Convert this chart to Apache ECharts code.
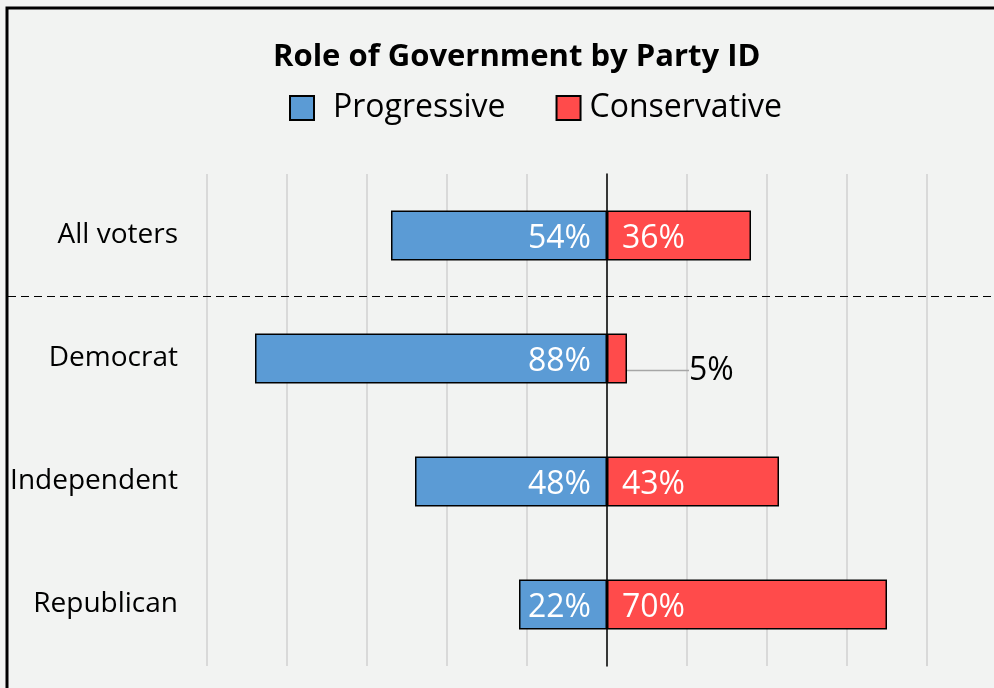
<!DOCTYPE html>
<html><head><meta charset="utf-8">
<script src="https://cdn.jsdelivr.net/npm/echarts@6/dist/echarts.min.js"></script>
<style>html,body{margin:0;padding:0;background:#f2f3f2}#c{width:994px;height:688px}</style>
</head><body><div id="c"></div>
<script>
const categories = ['All voters', 'Democrat', 'Independent', 'Republican'];
const progressive = [54, 88, 48, 22];
const conservative = [36, 5, 43, 70];
const xMin = -100, xMax = 96.75, xStep = 20;

const FONT = 'Open Sans';
const chart = echarts.init(document.getElementById('c'));
chart.setOption({
  backgroundColor: '#f2f3f2',
  animation: false,
  textStyle: { fontFamily: FONT },
  title: {
    text: 'Role of Government by Party ID',
    left: 268, top: 37,
    textStyle: { fontFamily: FONT, fontWeight: 'bold', fontSize: 31, color: '#000' }
  },
  legend: {
    top: 87, left: 284,
    itemWidth: 24, itemHeight: 24, itemGap: 50,
    icon: 'rect',
    textStyle: { fontFamily: FONT, fontSize: 32, color: '#000', padding: [0,0,0,14] },
    data: [
      { name: 'Progressive' },
      { name: 'Conservative', textStyle: { padding: [0,0,0,4] } }
    ]
  },
  grid: { left: 207, right: 0, top: 174, height: 492, containLabel: false },
  xAxis: {
    type: 'value', min: xMin, max: xMax, interval: xStep,
    axisLabel: { show: false }, axisLine: { show: false }, axisTick: { show: false },
    splitLine: { show: true, showMaxLine: false, lineStyle: { color: '#d9d9d9', width: 2 } }
  },
  yAxis: [{
    type: 'category', data: categories, inverse: true,
    axisLine: { show: true, onZero: true, lineStyle: { color: '#000', width: 1.5 } },
    axisTick: { show: false },
    axisLabel: { show: false }
  }, {
    type: 'category', data: categories, inverse: true, position: 'left',
    axisLine: { show: false, onZero: false }, axisTick: { show: false },
    axisLabel: { show: true, margin: 29, color: '#000', fontSize: 28, fontFamily: FONT,
      verticalAlign: 'middle', padding: [6, 0, 0, 0] }
  }],
  series: [
    {
      name: 'Progressive', type: 'bar', stack: 'all', barWidth: 50,
      data: progressive.map(v => -v),
      itemStyle: { color: '#5b9bd5', borderColor: '#000', borderWidth: 1.5 },
      label: {
        show: true, position: 'insideRight', distance: 16,
        color: '#fff', fontSize: 32, fontFamily: FONT,
        formatter: p => Math.abs(p.value) + '%'
      },
      labelLayout: { dy: 3 }
    },
    {
      name: 'Conservative', type: 'bar', stack: 'all', barWidth: 50,
      data: conservative.map((v, i) => i === 1 ? {
        value: v,
        label: { position: 'right', color: '#000', distance: 8 },
        labelLine: { show: true, lineStyle: { color: '#a6a6a6', width: 1.5 } }
      } : v),
      itemStyle: { color: '#ff4b4b', borderColor: '#000', borderWidth: 1.5 },
      label: {
        show: true, position: 'insideLeft', distance: 15,
        color: '#fff', fontSize: 32, fontFamily: FONT,
        formatter: p => p.value + '%'
      },
      labelLayout: p => p.dataIndex === 1 ? { dx: 54, dy: 12 } : { dy: 3 }
    }
  ],
  graphic: [
    { type: 'rect', shape: { x: 7, y: 8, width: 1100, height: 900 },
      style: { fill: 'none', stroke: '#000', lineWidth: 3 }, silent: true, z: 100 },
    { type: 'line', shape: { x1: 8, y1: 296.5, x2: 994, y2: 296.5 },
      style: { stroke: '#000', lineWidth: 1, lineDash: [8, 5] }, z: 50 }
  ]
});
</script></body></html>
